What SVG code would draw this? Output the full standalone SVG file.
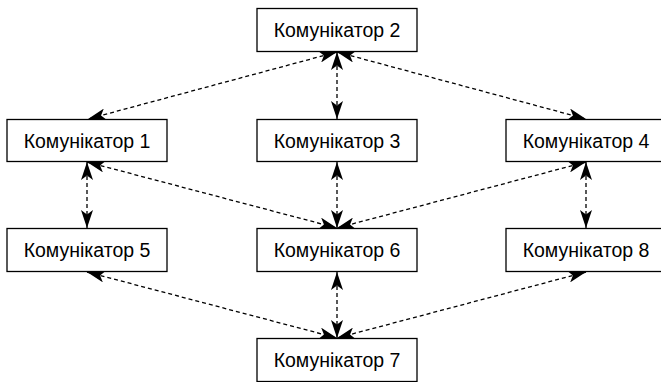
<svg xmlns="http://www.w3.org/2000/svg" width="661" height="382" viewBox="0 0 661 382">
<style>
.box{fill:#fff;stroke:#000;stroke-width:1.3}
.lbl{font-family:"Liberation Sans",Arial,sans-serif;font-size:19.5px;fill:#000;text-anchor:middle}
.edge{fill:none;stroke:#000;stroke-width:1.3;stroke-dasharray:4 3;marker-start:url(#ah);marker-end:url(#ah)}
</style>
<defs>
<marker id="ah" viewBox="0 0 18 12" refX="18" refY="6" markerWidth="18" markerHeight="12" markerUnits="userSpaceOnUse" orient="auto-start-reverse">
<path d="M18,6 L0,0 L4.5,6 L0,12 z" fill="#000"/>
</marker>
</defs>
<g id="connectors">
<line class="edge" x1="337" y1="52" x2="88" y2="119"/>
<line class="edge" x1="337" y1="52" x2="337" y2="119"/>
<line class="edge" x1="337" y1="52" x2="586" y2="119"/>
<line class="edge" x1="87" y1="162" x2="87" y2="228"/>
<line class="edge" x1="87" y1="162" x2="337" y2="228"/>
<line class="edge" x1="337" y1="162" x2="337" y2="228"/>
<line class="edge" x1="586" y1="162" x2="337" y2="228"/>
<line class="edge" x1="586" y1="162" x2="586" y2="228"/>
<line class="edge" x1="87" y1="272" x2="337" y2="338"/>
<line class="edge" x1="337" y1="272" x2="337" y2="338"/>
<line class="edge" x1="586" y1="272" x2="337" y2="338"/>
</g>
<g id="node2"><rect class="box" x="257" y="8.5" width="160" height="43"/><text class="lbl" x="337" y="37">Комунікатор 2</text></g>
<g id="node1"><rect class="box" x="7" y="119.5" width="160" height="42"/><text class="lbl" x="87" y="147.5">Комунікатор 1</text></g>
<g id="node3"><rect class="box" x="257" y="119.5" width="160" height="42"/><text class="lbl" x="337" y="147.5">Комунікатор 3</text></g>
<g id="node4"><rect class="box" x="506" y="119.5" width="160" height="42"/><text class="lbl" x="586" y="147.5">Комунікатор 4</text></g>
<g id="node5"><rect class="box" x="7" y="228.5" width="160" height="43"/><text class="lbl" x="87" y="257">Комунікатор 5</text></g>
<g id="node6"><rect class="box" x="257" y="228.5" width="160" height="43"/><text class="lbl" x="337" y="257">Комунікатор 6</text></g>
<g id="node8"><rect class="box" x="506" y="228.5" width="160" height="43"/><text class="lbl" x="586" y="257">Комунікатор 8</text></g>
<g id="node7"><rect class="box" x="257" y="338.5" width="160" height="43"/><text class="lbl" x="337" y="367">Комунікатор 7</text></g>
</svg>
